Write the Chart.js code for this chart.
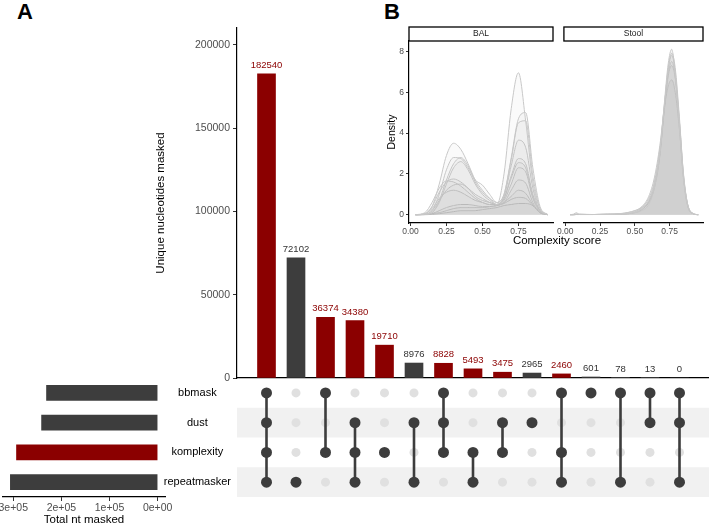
<!DOCTYPE html>
<html>
<head>
<meta charset="utf-8">
<script src="https://cdn.jsdelivr.net/npm/chart.js@4.4.1/dist/chart.umd.min.js"></script>
<style>
body{margin:0;width:709px;height:527px;overflow:hidden;background:#fff;position:relative;font-family:"Liberation Sans",Arial,sans-serif}
canvas{position:absolute}
.tag{position:absolute;font-weight:bold;font-size:22px;line-height:22px;color:#000}
.xtitle{position:absolute;font-size:11.5px;color:#000;white-space:nowrap;transform:translateX(-50%)}
</style>
</head>
<body>
<div class="tag" style="left:17px;top:1px">A</div>
<div class="tag" style="left:384px;top:1px">B</div>
<canvas id="mainBars" width="559" height="390" style="left:150px;top:0"></canvas>
<canvas id="matrix" width="559" height="135" style="left:150px;top:370px"></canvas>
<canvas id="setBars" width="180" height="157" style="left:0;top:370px"></canvas>
<canvas id="balDens" width="176" height="217" style="left:380px;top:20px"></canvas>
<canvas id="stoolDens" width="153" height="217" style="left:556px;top:20px"></canvas>
<div class="xtitle" style="left:557px;top:234px">Complexity score</div>
<script>
// ---- panel A data ----
const setNames = ['bbmask', 'dust', 'komplexity', 'repeatmasker']
const setSizes = [230894, 241177, 293260, 306029]
const intersectSizes = [182540, 72102, 36374, 34380, 19710, 8976, 8828, 5493, 3475, 2965, 2460, 601, 78, 13, 0]
// one flag per intersection column
const inBbmask       = [1,0,1,0,0,0,1,0,0,0,1,1,1,1,1]
const inDust         = [1,0,0,1,0,1,1,0,1,1,0,0,0,1,1]
const inKomplexity   = [1,0,1,1,1,0,1,1,1,0,1,0,0,0,0]
const inRepeatmasker = [1,1,0,1,0,1,0,1,0,0,1,0,1,0,1]

// ---- panel B data (density curves) ----
const balX = [0.035,0.10,0.15,0.20,0.25,0.30,0.35,0.40,0.45,0.50,0.55,0.60,0.65,0.70,0.75,0.80,0.85,0.90,0.955]
const balCurves = [
  [0,0.05,0.4,1.5,2.9,3.5,3.2,2.5,1.7,1.2,0.8,0.5,2.0,5.2,6.95,4.6,1.6,0.3,0],
  [0,0.02,0.2,1.0,2.2,2.8,2.75,2.3,1.7,1.45,1.0,0.6,1.0,2.8,4.7,5.0,2.3,0.4,0],
  [0,0.01,0.1,0.7,1.7,2.5,2.8,2.4,1.6,1.1,0.8,0.6,1.0,2.7,4.5,4.6,1.9,0.3,0],
  [0,0.01,0.1,0.6,1.5,2.3,2.6,2.2,1.5,1.0,0.7,0.5,0.9,2.4,3.65,3.3,1.3,0.2,0],
  [0,0.05,0.4,1.1,1.6,1.75,1.6,1.3,0.9,0.7,0.6,0.5,0.8,1.9,2.75,2.5,1.0,0.2,0],
  [0,0.1,0.6,1.3,1.65,1.6,1.4,1.1,0.8,0.6,0.5,0.5,0.8,1.8,2.55,2.3,0.9,0.2,0],
  [0,0.02,0.2,0.7,1.2,1.45,1.5,1.3,1.0,0.8,0.6,0.5,0.7,1.5,2.3,2.1,0.8,0.15,0],
  [0,0.05,0.3,0.8,1.1,1.2,1.1,0.9,0.7,0.6,0.5,0.5,0.6,1.2,1.7,1.55,0.6,0.1,0],
  [0,0.01,0.05,0.2,0.35,0.45,0.5,0.5,0.45,0.4,0.4,0.45,0.6,0.9,1.2,1.05,0.5,0.1,0],
  [0,0.01,0.05,0.1,0.2,0.3,0.35,0.35,0.35,0.35,0.4,0.45,0.55,0.75,0.85,0.8,0.45,0.1,0],
  [0,0,0.02,0.05,0.1,0.15,0.2,0.2,0.2,0.25,0.3,0.35,0.45,0.5,0.55,0.55,0.45,0.15,0]
]
const stoolX = [0.035,0.06,0.08,0.10,0.20,0.30,0.40,0.50,0.55,0.60,0.64,0.68,0.71,0.74,0.765,0.79,0.82,0.85,0.88,0.92,0.956]
const stoolCurves = [
  [0,0.03,0.1,0.02,0.01,0.02,0.03,0.1,0.2,0.5,1.3,3.0,5.3,7.4,8.1,6.9,4.3,1.7,0.4,0.05,0],
  [0,0,0.02,0.02,0.01,0.02,0.03,0.12,0.3,0.7,1.5,3.1,5.2,7.1,7.8,7.0,4.6,1.9,0.5,0.05,0],
  [0,0.01,0.03,0.02,0.01,0.02,0.04,0.15,0.35,0.8,1.6,3.2,5.2,6.9,7.5,6.8,4.5,1.8,0.45,0.05,0],
  [0,0,0.01,0.01,0.01,0.02,0.05,0.2,0.4,0.9,1.8,3.4,5.1,6.3,6.6,6.0,4.2,1.8,0.5,0.06,0],
  [0,0,0.02,0.02,0.01,0.03,0.06,0.2,0.35,0.65,1.4,3.0,5.0,6.8,7.3,6.7,4.6,2.0,0.5,0.05,0],
  [0,0,0.01,0.01,0.01,0.02,0.03,0.1,0.25,0.6,1.3,2.9,5.1,7.2,7.9,7.2,4.8,1.9,0.45,0.05,0]
]
const densTicksX = [0, 0.25, 0.5, 0.75]
const densTicksY = [0, 2, 4, 6, 8]

const RED = '#8b0000'
const DARK = '#3d3d3d'
const FONT = '"Liberation Sans", Arial, sans-serif'
Chart.defaults.font.family = FONT
Chart.defaults.animation = false
Chart.defaults.plugins.legend.display = false
Chart.defaults.plugins.tooltip.enabled = false
Chart.defaults.layout.autoPadding = false

const memberRows = [inBbmask, inDust, inKomplexity, inRepeatmasker]
const barColors = inKomplexity.map(f => f ? RED : DARK)
const setColors = setNames.map(n => n == 'komplexity' ? RED : DARK)

function fixedTicks(vals){
    return s => { s.ticks = vals.map(v => ({value: v})) }
}

// numbers on top of the intersection bars
const barLabels = {
    id: 'barLabels',
    afterDatasetsDraw(chart){
        const ctx = chart.ctx
        const meta = chart.getDatasetMeta(0)
        ctx.save()
        ctx.font = '9.5px ' + FONT
        ctx.textAlign = 'center'
        ctx.textBaseline = 'bottom'
        meta.data.forEach((el, i) => {
            ctx.fillStyle = barColors[i] == RED ? RED : '#333'
            ctx.fillText(String(intersectSizes[i]), el.x, el.y - 4)
        })
        ctx.restore()
    }
}

new Chart(document.getElementById('mainBars'), {
    type: 'bar',
    data: {
        datasets: [{
            data: intersectSizes.map((v, i) => ({x: i + 1, y: v})),
            backgroundColor: barColors,
            barThickness: 18
        }]
    },
    options: {
        responsive: false, devicePixelRatio: 1,
        layout: {padding: {top: 28, bottom: 12, left: 0, right: 0}},
        scales: {
            x: {type: 'linear', min: 0, max: 16, offset: false,
                grid: {display: false}, ticks: {display: false},
                border: {color: '#000', width: 1.2},
                afterFit: s => { s.height = 0 }},
            y: {min: 0, max: 210000,
                afterBuildTicks: fixedTicks([0, 50000, 100000, 150000, 200000]),
                ticks: {color: '#4d4d4d', font: {size: 10.5}, padding: 3, callback: v => String(v)},
                grid: {drawOnChartArea: false, tickLength: 4, color: '#333'},
                border: {color: '#000', width: 1.2},
                title: {display: true, text: 'Unique nucleotides masked', color: '#000', font: {size: 11.5}, padding: {top: 4, bottom: 4}},
                afterFit: s => { s.width = 87 }}
        }
    },
    plugins: [barLabels]
})

// ---- matrix of set memberships ----
const stripes = {
    id: 'stripes',
    beforeDatasetsDraw(chart){
        const {ctx, chartArea, scales} = chart
        ctx.save()
        ctx.fillStyle = '#f1f1f1'
        for (let r = 2; r <= 4; r += 2){
            const y1 = scales.y.getPixelForValue(r - 0.5)
            const y2 = scales.y.getPixelForValue(r + 0.5)
            ctx.fillRect(chartArea.left, y1, chartArea.right - chartArea.left, y2 - y1)
        }
        ctx.restore()
    }
}

const dotsOn = [], dotsOff = []
memberRows.forEach((row, r) => row.forEach((f, c) => (f ? dotsOn : dotsOff).push({x: c + 1, y: r + 1})))

const matrixSets = [
    {data: dotsOn, pointRadius: 5.5, pointBackgroundColor: DARK, pointBorderWidth: 0, showLine: false}
]
intersectSizes.forEach((v, c) => {
    const rows = memberRows.map((row, r) => row[c] ? r + 1 : null).filter(r => r !== null)
    if (rows.length > 1){
        matrixSets.push({data: [{x: c + 1, y: rows[0]}, {x: c + 1, y: rows[rows.length - 1]}],
            showLine: true, borderColor: DARK, borderWidth: 2.6, pointRadius: 0})
    }
})
matrixSets.push({data: dotsOff, pointRadius: 4.5, pointBackgroundColor: '#e0e0e0', pointBorderWidth: 0, showLine: false})

new Chart(document.getElementById('matrix'), {
    type: 'scatter',
    data: {datasets: matrixSets.map(d => Object.assign({clip: false}, d))},
    options: {
        responsive: false, devicePixelRatio: 1,
        layout: {padding: {top: 8, bottom: 8, left: 0, right: 0}},
        scales: {
            x: {type: 'linear', min: 0, max: 16, display: false},
            y: {type: 'linear', min: 0.5, max: 4.5, reverse: true,
                afterBuildTicks: fixedTicks([1, 2, 3, 4]),
                ticks: {color: '#000', font: {size: 11}, crossAlign: 'center', padding: 6,
                    callback: v => setNames[v - 1]},
                grid: {display: false, drawTicks: false},
                border: {display: false},
                afterFit: s => { s.width = 87; s.paddingTop = 0; s.paddingBottom = 0 }}
        }
    },
    plugins: [stripes]
})

// ---- set sizes (left) ----
new Chart(document.getElementById('setBars'), {
    type: 'bar',
    data: {labels: setNames, datasets: [{data: setSizes, backgroundColor: setColors, barThickness: 15}]},
    options: {
        indexAxis: 'y',
        responsive: false, devicePixelRatio: 1,
        layout: {padding: {top: 8, left: 3, right: 15, bottom: 0}},
        scales: {
            y: {display: false},
            x: {min: -15301, max: 321330, reverse: true,
                afterBuildTicks: fixedTicks([0, 100000, 200000, 300000]),
                ticks: {color: '#4d4d4d', font: {size: 10.5}, padding: 1, maxRotation: 0,
                    callback: v => (v / 100000) + 'e+0' + (v ? 5 : 0)},
                grid: {drawOnChartArea: false, tickLength: 4, color: '#333'},
                border: {color: '#000', width: 1.2},
                title: {display: true, text: 'Total nt masked', color: '#000', font: {size: 11.5}, padding: {top: 2, bottom: 0}},
                afterFit: s => { s.height = 30 }}
        }
    }
})

// ---- panel B: facet strips + density curves ----
const strip = {
    id: 'strip',
    afterDraw(chart, args, opts){
        const {ctx, chartArea} = chart
        ctx.save()
        ctx.fillStyle = '#fff'
        ctx.strokeStyle = '#000'
        ctx.lineWidth = 1.3
        ctx.fillRect(chartArea.left, chartArea.top - 14, chartArea.right - chartArea.left, 14)
        ctx.strokeRect(chartArea.left, chartArea.top - 14, chartArea.right - chartArea.left, 14)
        ctx.fillStyle = '#1a1a1a'
        ctx.font = '8.5px ' + FONT
        ctx.textAlign = 'center'
        ctx.textBaseline = 'middle'
        ctx.fillText(opts.text, (chartArea.left + chartArea.right) / 2, chartArea.top - 7)
        ctx.restore()
    }
}

function densityChart(id, xs, curves, label, showY, alpha, pad){
    new Chart(document.getElementById(id), {
        type: 'line',
        data: {
            datasets: curves.map(c => ({
                data: c.map((y, i) => ({x: xs[i], y: y})),
                borderColor: '#c8c8c8', borderWidth: 1,
                backgroundColor: 'rgba(175,175,175,' + alpha + ')',
                fill: 'origin', pointRadius: 0,
                cubicInterpolationMode: 'monotone'
            }))
        },
        options: {
            responsive: false, devicePixelRatio: 1,
            layout: {padding: pad},
            plugins: {strip: {text: label}},
            scales: {
                x: {type: 'linear', min: -0.01, max: 0.99,
                    afterBuildTicks: fixedTicks(densTicksX),
                    ticks: {color: '#4d4d4d', font: {size: 8.5}, padding: 1, maxRotation: 0, callback: v => v.toFixed(2)},
                    grid: {drawOnChartArea: false, tickLength: 3, color: '#333'},
                    border: {color: '#000', width: 1.2},
                    afterFit: s => { s.height = 14 }},
                y: {min: -0.405, max: 8.505, display: showY,
                    afterBuildTicks: fixedTicks(densTicksY),
                    ticks: {color: '#4d4d4d', font: {size: 8.5}, padding: 2},
                    grid: {drawOnChartArea: false, tickLength: 3, color: '#333'},
                    border: {color: '#000', width: 1.2},
                    title: {display: true, text: 'Density', color: '#000', font: {size: 10.5}, padding: {top: 6, bottom: 0}},
                    afterFit: s => { s.width = showY ? 29 : 0 }}
            }
        },
        plugins: [strip]
    })
}

densityChart('balDens', balX, balCurves, 'BAL', true, 0.06, {top: 21, left: 0, right: 3, bottom: 0})
densityChart('stoolDens', stoolX, stoolCurves, 'Stool', false, 0.14, {top: 21, left: 3, right: 6, bottom: 0})
</script>
</body>
</html>
